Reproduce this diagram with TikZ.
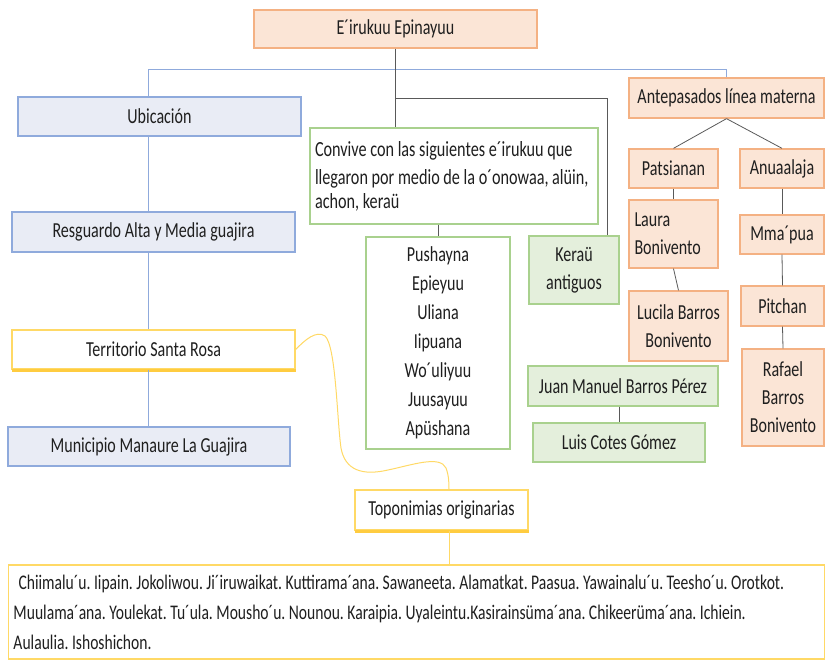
\documentclass[tikz,border=0pt]{standalone}
\usepackage{fontspec}
\setmainfont{Carlito}[FakeStretch=0.75]
\usetikzlibrary{calc}
\definecolor{pinkfill}{HTML}{FBE5D6}
\definecolor{pinkline}{HTML}{F4B183}
\definecolor{bluefill}{HTML}{E9ECF5}
\definecolor{blueline}{HTML}{8FAADC}
\definecolor{greenfill}{HTML}{E4EFDC}
\definecolor{greenline}{HTML}{A9D18E}
\definecolor{yelline}{HTML}{FFD966}
\definecolor{yelshadow}{HTML}{FFCC40}
\definecolor{conn}{HTML}{595959}
\begin{document}
\frenchspacing
\begin{tikzpicture}[x=1pt,y=-1pt,
  every node/.style={font=\fontsize{21.4}{28}\selectfont, inner sep=0pt, text=black!88},
  bx/.style={draw, line width=1.3pt, anchor=center},
  pinkbox/.style={bx, fill=pinkfill, draw=pinkline},
  bluebox/.style={bx, fill=bluefill, draw=blueline},
  greenbox/.style={bx, fill=greenfill, draw=greenline},
  gwbox/.style={bx, fill=white, draw=greenline},
  yelbox/.style={bx, fill=white, draw=yelline},
  gline/.style={draw=conn, line width=0.8pt},
  bline/.style={draw=blueline, line width=1pt},
  yline/.style={draw=yelline, line width=1pt},
  yshadow/.style={draw=yelshadow, line width=2.4pt},
]
\useasboundingbox (0,0) rectangle (825,660);
% boxes
\node[pinkbox, minimum width=283, minimum height=38] (title) at (395.5,29) {E´irukuu Epinayuu};
\node[bluebox, minimum width=283, minimum height=39] (ubic) at (159.5,116.5) {Ubicación};
\node[bluebox, minimum width=283, minimum height=40] (resg) at (153.5,232) {Resguardo Alta y Media guajira};
\node[yelbox, minimum width=283, minimum height=39] (terr) at (153.5,349.5) {Territorio Santa Rosa};
\node[bluebox, minimum width=282, minimum height=39] (muni) at (149,446.5) {Municipio Manaure La Guajira};
\node[gwbox, minimum width=288, minimum height=96, align=flush left, text width=278, font=\fontsize{21.6}{28}\selectfont] (conv) at (454,176)
  {Convive con las siguientes e´irukuu que\\llegaron por medio de la o´onowaa, alüin,\\[-4pt]achon, keraü};
\node[gwbox, minimum width=144, minimum height=212, align=center, font=\fontsize{21.4}{29}\selectfont] (list) at (438,343)
  {Pushayna\\Epieyuu\\Uliana\\Iipuana\\Wo´uliyuu\\Juusayuu\\Apüshana};
\node[greenbox, minimum width=90, minimum height=68, align=center] (kera) at (574,270) {Keraü\\antiguos};
\node[greenbox, minimum width=190, minimum height=40] (juan) at (623,386) {Juan Manuel Barros Pérez};
\node[greenbox, minimum width=172, minimum height=39] (luis) at (619,442.5) {Luis Cotes Gómez};
\node[pinkbox, minimum width=195, minimum height=40] (ante) at (726.5,98) {Antepasados línea materna};
\node[pinkbox, minimum width=89, minimum height=39] (pats) at (673.5,168.5) {Patsianan};
\node[pinkbox, minimum width=84, minimum height=39] (anua) at (782,168.5) {Anuaalaja};
\node[pinkbox, minimum width=89, minimum height=68, align=flush left, text width=78] (laura) at (673.5,234) {Laura\\Bonivento};
\node[pinkbox, minimum width=99, minimum height=70, align=center] (lucila) at (678.5,326) {Lucila Barros\\Bonivento};
\node[pinkbox, minimum width=84, minimum height=39] (mma) at (782,234.5) {Mma´pua};
\node[pinkbox, minimum width=83, minimum height=40] (pitch) at (782.5,306) {Pitchan};
\node[pinkbox, minimum width=82, minimum height=97, align=center] (rafael) at (783,397.5) {Rafael\\Barros\\Bonivento};
\node[yelbox, minimum width=173, minimum height=40] (topo) at (441.5,510) {Toponimias originarias};
\node[yelbox, minimum width=816, minimum height=94, align=flush left, text width=806, font=\fontsize{20.8}{30}\selectfont] (bottom) at (416.5,612)
  {\mbox{\hspace{5pt}Chiimalu´u. Iipain. Jokoliwou. Ji´iruwaikat. Kuttirama´ana. Sawaneeta. Alamatkat. Paasua. Yawainalu´u. Teesho´u. Orotkot.}\\
   \mbox{Muulama´ana. Youlekat. Tu´ula. Mousho´u. Nounou. Karaipia. Uyaleintu.Kasirainsüma´ana. Chikeerüma´ana. Ichiein.}\\
   \mbox{Aulaulia. Ishoshichon.}};
% shadows of the yellow boxes
\draw[yshadow] ($(terr.south west)+(0.5,0.8)$) -- ($(terr.south east)+(0,0.8)$);
\draw[yshadow] ($(topo.south west)+(0.5,0.8)$) -- ($(topo.south east)+(0,0.8)$);
% helper coordinates
\coordinate (lx) at (148,0);
\coordinate (ly) at (0,70);
\coordinate (gy) at (0,98);
% connectors
\draw[bline] (ubic.north -| lx) |- (ante.north |- ly) -- (ante.north);
\draw[gline] (title.south) -- (title.south |- conv.north);
\draw[gline] (title.south |- gy) -| ($(kera.north east)+(-12,0)$);
\draw[bline] (ubic.south -| lx) -- (resg.north -| lx);
\draw[bline] (resg.south -| lx) -- (terr.north -| lx);
\draw[bline] (terr.south -| lx) -- (muni.north -| lx);
\draw[gline] (conv.south -| list.north) -- (list.north);
\draw[gline] ($(kera.south)+(-2,0)$) -- ($(kera.south)+(-2,0)$ |- juan.north);
\draw[gline] (juan.south -| luis.north) -- (luis.north);
\draw[gline] (ante.south) -- (pats.north);
\draw[gline] (ante.south) -- (anua.north);
\draw[gline] (pats.south) -- (laura.north);
\draw[gline] (laura.south) -- (lucila.north);
\draw[gline] (anua.south) -- (mma.north);
\draw[gline] (mma.south) -- (pitch.north);
\draw[gline] (pitch.south) -- (rafael.north);
\coordinate (tx) at (449,0);
\draw[yline] (terr.east) .. controls (305,340) and (316,330) .. (325,336)
  .. controls (336,346) and (337,420) .. (341,448)
  .. controls (345,470) and (362,476) .. (388,470)
  .. controls (412,465) and (440,455) .. (446,468)
  .. controls (449,476) and (449,484) .. (topo.north -| tx);
\draw[yline] (topo.south -| tx) -- (bottom.north -| tx);
\end{tikzpicture}
\end{document}
